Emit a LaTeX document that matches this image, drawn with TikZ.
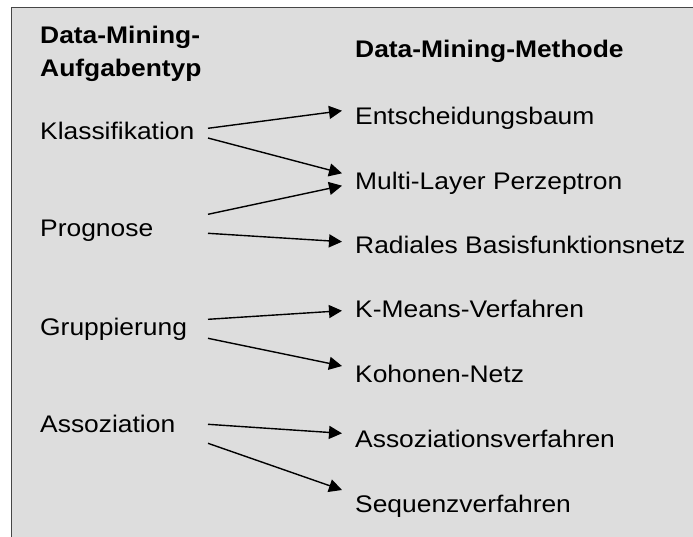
\documentclass[tikz,border=0pt]{standalone}
\usepackage{fontspec}
\setmainfont{Liberation Sans}[FakeStretch=1.1]
\usetikzlibrary{arrows.meta,calc}

\definecolor{panel}{RGB}{221,221,221}
\definecolor{frame}{RGB}{70,70,70}

\tikzset{
  label/.style={inner sep=0pt, anchor=base west, font=\fontsize{24}{33}\selectfont},
  head/.style={label, font=\fontsize{24}{33}\selectfont\bfseries, align=left},
  link/.style={line width=1.4pt, -{Triangle[length=13pt,width=13pt]}},
}

\begin{document}
\begin{tikzpicture}[x=1pt, y=-1pt]
  \useasboundingbox (0,0) rectangle (693,536);
  \clip (0,0) rectangle (693,536);
  \fill[white] (0,0) rectangle (693,536);
  \draw[frame, line width=1pt, fill=panel] (11,7) rectangle (720,560);

  % column headings (a two-line node sits on its last baseline)
  \node[head] (htype) at (40,76) {Data-Mining-\\Aufgabentyp};
  \node[head] (hmeth) at (355,57.3) {Data-Mining-Methode};

  % task types
  \node[label] (klass) at (40,139.3) {Klassifikation};
  \node[label] (progn) at (40,236.7) {Prognose};
  \node[label] (grupp) at (40,335.7) {Gruppierung};
  \node[label] (assoz) at (40,432.7) {Assoziation};

  % methods
  \node[label] (baum)  at (355,124)   {Entscheidungsbaum};
  \node[label] (mlp)   at (355,189)   {Multi-Layer Perzeptron};
  \node[label] (rbf)   at (355,253.3) {Radiales Basisfunktionsnetz};
  \node[label] (kmean) at (355,317.7) {K-Means-Verfahren};
  \node[label] (koho)  at (355,382.3) {Kohonen-Netz};
  \node[label] (averf) at (355,447.3) {Assoziationsverfahren};
  \node[label] (seq)   at (355,512.3) {Sequenzverfahren};

  % start and end columns of the connectors
  \coordinate (sx) at (208,0);
  \coordinate (ex) at (342,0);

  \draw[link] ($(sx |- klass.base)+(0,-11)$)   -- ($(ex |- baum.base)+(0,-13.3)$);
  \draw[link] ($(sx |- klass.base)+(0,-1.3)$)  -- ($(ex |- mlp.base)+(0,-15.7)$);
  \draw[link] ($(sx |- progn.base)+(0,-22.4)$) -- ($(ex |- mlp.base)+(0,-3.3)$);
  \draw[link] ($(sx |- progn.base)+(0,-3.4)$)  -- ($(ex |- rbf.base)+(0,-11.6)$);
  \draw[link] ($(sx |- grupp.base)+(0,-16.4)$) -- ($(ex |- kmean.base)+(0,-7)$);
  \draw[link] ($(sx |- grupp.base)+(0,2.6)$)   -- ($(ex |- koho.base)+(0,-16.3)$);
  \draw[link] ($(sx |- assoz.base)+(0,-8.4)$)  -- ($(ex |- averf.base)+(0,-14)$);
  \draw[link] ($(sx |- assoz.base)+(0,10.6)$)  -- ($(ex |- seq.base)+(0,-22.3)$);
\end{tikzpicture}
\end{document}
